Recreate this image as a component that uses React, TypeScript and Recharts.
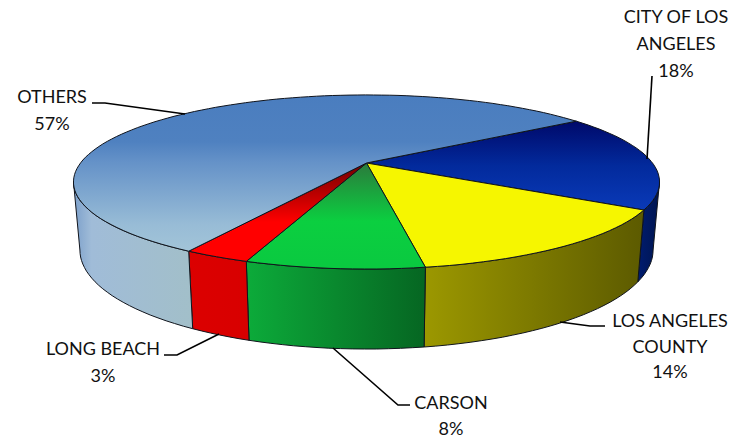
import React from "react"
import { Pie, PieChart } from "recharts"

const categories = ["CITY OF LOS ANGELES", "LOS ANGELES COUNTY", "CARSON", "LONG BEACH", "OTHERS"]
const shares = [18, 14, 8, 3, 57]
const labelRows = [["CITY OF LOS", "ANGELES"], ["LOS ANGELES", "COUNTY"], ["CARSON"], ["LONG BEACH"], ["OTHERS"]]

const chartData = categories.map((name, i) => ({ name, value: shares[i] }))

// top face and wall colours, [offset, colour]
const topStops = [
  [[0, "#00096a"], [0.5, "#022a9c"], [1, "#0a3ab8"]],
  [[0, "#f6f600"], [1, "#f6f600"]],
  [[0, "#2b7a3c"], [0.55, "#0bcf40"], [1, "#0ac940"]],
  [[0, "#700000"], [0.6, "#ff0000"], [1, "#ff0000"]],
  [[0, "#4a7dbf"], [0.3, "#4f81c0"], [0.43, "#6592c8"], [0.83, "#98bcd6"], [1, "#a2c4d8"]],
]
const wallStops = [
  [[0, "#001c70"], [1, "#00154f"]],
  [[0, "#9c9800"], [1, "#5c5a00"]],
  [[0, "#0cab3a"], [1, "#066622"]],
  [[0, "#dc0000"], [1, "#d80000"]],
  [[0, "#7b9fca"], [0.15, "#a0bcd8"], [1, "#a2bfc9"]],
]

// label placement: text centre, first baseline, line gap, then the leader polyline
const labelLayout = [
  { x: 676, y: 23, gap: 27, leader: "652,76 647,159" },
  { x: 670, y: 327, gap: 25.5, leader: "605,326 590,326 560,322" },
  { x: 451, y: 409, gap: 25.5, leader: "410,405 398,405 333,348" },
  { x: 103, y: 355, gap: 27, leader: "164,355 177,355 219,334" },
  { x: 52, y: 103, gap: 27, leader: "92,103 105,103 185,114" },
]

// perspective of the disc
const tilt = 0.218
const squash = 0.829
const stretch = 2.86
const wallScaleX = 0.978
const wallScaleY = 1.138
const rimMidY = 19 // widest line of the ellipse, below the apex
const wallDrop = 68

const RAD = Math.PI / 180

function topPoint(cx: number, cy: number, r: number, deg: number) {
  const u = Math.cos(deg * RAD)
  const v = -Math.sin(deg * RAD)
  const d = 1 - tilt * v
  return [cx + (r * stretch * u) / d, cy + (r * squash * v) / d]
}

function bottomPoint(cx: number, cy: number, r: number, deg: number) {
  const [x, y] = topPoint(cx, cy, r, deg)
  const mid = cy + rimMidY
  return [cx + (x - cx) * wallScaleX, mid + wallDrop + (y - mid) * wallScaleY]
}

function arc(from: number, to: number) {
  const n = Math.max(1, Math.ceil(Math.abs(to - from) / 2))
  const out: number[] = []
  for (let i = 0; i <= n; i++) out.push(from + ((to - from) * i) / n)
  return out
}

const toPath = (pts: number[][]) => pts.map((p, i) => `${i ? "L" : "M"}${p[0].toFixed(1)},${p[1].toFixed(1)}`).join(" ")

function Stops({ stops }: { stops: any[] }) {
  return (
    <>
      {stops.map((s, i) => (
        <stop key={i} offset={s[0]} stopColor={s[1]} />
      ))}
    </>
  )
}

// draws one pie sector as a tilted slice with its outer wall
function Slice3D(props: any) {
  const { cx, cy, outerRadius, startAngle, endAngle, index } = props
  const r = outerRadius
  const top = arc(startAngle, endAngle).map((a) => topPoint(cx, cy, r, a))
  const facePath = toPath([[cx, cy], ...top]) + " Z"

  // only the front of the rim shows a wall
  const edge = (Math.asin(tilt) * 180) / Math.PI
  const frontFrom = -edge
  const frontTo = -180 + edge
  const from = Math.min(startAngle, frontFrom)
  const to = Math.max(endAngle, frontTo)
  let wall = null
  if (from > to) {
    const angles = arc(from, to)
    const upper = angles.map((a) => topPoint(cx, cy, r, a))
    const lower = angles.map((a) => bottomPoint(cx, cy, r, a)).reverse()
    wall = <path d={toPath([...upper, ...lower]) + " Z"} fill={`url(#wall${index})`} stroke="#10141c" strokeWidth={1} />
  }

  return (
    <g>
      <defs>
        <linearGradient id={`top${index}`} x1="0" y1="0" x2="0" y2="1">
          <Stops stops={topStops[index]} />
        </linearGradient>
        <linearGradient id={`wall${index}`} x1="0" y1="0" x2="1" y2="0">
          <Stops stops={wallStops[index]} />
        </linearGradient>
      </defs>
      {wall}
      <path d={facePath} fill={`url(#top${index})`} stroke="#10141c" strokeWidth={1} strokeLinejoin="round" />
    </g>
  )
}

function SliceLabel(props: any) {
  const { index, value } = props
  const place = labelLayout[index]
  const rows = [...labelRows[index], `${value}%`]
  return (
    <g>
      <polyline points={place.leader} fill="none" stroke="#000" strokeWidth={1.6} />
      <text textAnchor="middle" fontFamily="Lato" fontSize={18} fill="#111">
        {rows.map((row, i) => (
          <tspan key={i} x={place.x} y={place.y + i * place.gap}>
            {row}
          </tspan>
        ))}
      </text>
    </g>
  )
}

export default function App() {
  return (
    <div style={{ position: "absolute", left: 0, top: 0, width: 740, height: 438, background: "#fff" }}>
      <PieChart width={740} height={438} margin={{ top: 0, right: 0, bottom: 0, left: 0 }}>
        <Pie
          data={chartData}
          dataKey="value"
          nameKey="name"
          cx={366.5}
          cy={163}
          outerRadius={100}
          startAngle={34.5}
          endAngle={-325.5}
          stroke="none"
          isAnimationActive={false}
          shape={Slice3D}
          inactiveShape={Slice3D}
          label={SliceLabel}
          labelLine={false}
        />
      </PieChart>
    </div>
  )
}
